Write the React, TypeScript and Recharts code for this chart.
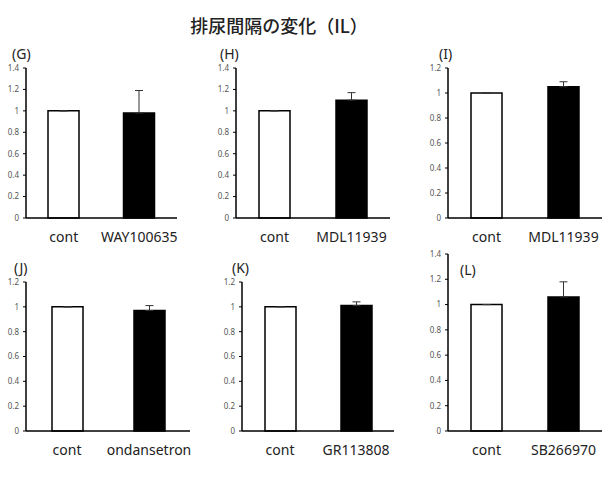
import React from 'react';
import { BarChart, Bar, XAxis, YAxis, ErrorBar, Cell } from 'recharts';

const catsG = ['cont', 'WAY100635'];
const valsG = [1, 0.98];
const errG = [0, 0.21];

const catsH = ['cont', 'MDL11939'];
const valsH = [1, 1.1];
const errH = [0, 0.07];

const catsI = ['cont', 'MDL11939'];
const valsI = [1, 1.05];
const errI = [0, 0.04];

const catsJ = ['cont', 'ondansetron'];
const valsJ = [1, 0.97];
const errJ = [0, 0.04];

const catsK = ['cont', 'GR113808'];
const valsK = [1, 1.01];
const errK = [0, 0.03];

const catsL = ['cont', 'SB266970'];
const valsL = [1, 1.06];
const errL = [0, 0.12];

const ticks14 = [0, 0.2, 0.4, 0.6, 0.8, 1, 1.2, 1.4];
const ticks12 = [0, 0.2, 0.4, 0.6, 0.8, 1, 1.2];

const FONT = '"Noto Sans", "Noto Sans CJK JP", sans-serif';

type PanelProps = {
  cats: string[];
  vals: number[];
  errs: number[];
  ticks: number[];
  axisX: number;
  plotTop: number;
  plotBottom: number;
  plotRight: number;
};

function Panel({ cats, vals, errs, ticks, axisX, plotTop, plotBottom, plotRight }: PanelProps) {
  const data = cats.map((c, i) => ({ name: c, value: vals[i], err: [0, errs[i]] }));
  const yw = 30;
  const mt = 8;
  const xh = 36;
  const w = plotRight - axisX + yw + 2;
  const h = plotBottom - plotTop + mt + xh;
  return (
    <div style={{ position: 'absolute', left: axisX - yw, top: plotTop - mt, width: w, height: h }}>
      <BarChart width={w} height={h} data={data} margin={{ top: mt, right: 2, bottom: 0, left: 0 }}>
        <XAxis
          dataKey="name"
          height={xh}
          interval={0}
          tickLine={false}
          tickSize={0}
          tickMargin={14}
          axisLine={{ stroke: '#000', strokeWidth: 1.5 }}
          tick={{ fontSize: 14, fill: '#222', fontFamily: FONT }}
        />
        <YAxis
          width={yw}
          domain={[0, ticks[ticks.length - 1]]}
          ticks={ticks}
          interval={0}
          tickSize={3}
          tickMargin={4}
          axisLine={{ stroke: '#000', strokeWidth: 1.5 }}
          tickLine={{ stroke: '#000' }}
          tick={{ fontSize: 8, fill: '#555', fontFamily: FONT }}
        />
        <Bar dataKey="value" barSize={31} isAnimationActive={false}>
          {data.map((d, i) => (
            <Cell key={i} fill={i === 0 ? '#fff' : '#000'} stroke="#000" strokeWidth={1.5} />
          ))}
          <ErrorBar dataKey="err" width={4} stroke="#333" strokeWidth={1} direction="y" />
        </Bar>
      </BarChart>
    </div>
  );
}

const labelStyle: React.CSSProperties = {
  position: 'absolute',
  fontSize: 14,
  lineHeight: '14px',
  color: '#222',
  fontFamily: FONT,
  whiteSpace: 'nowrap',
};

export default function App() {
  return (
    <div style={{ position: 'absolute', left: 0, top: 0, width: 604, height: 488, background: '#fff', fontFamily: FONT }}>
      <div
        style={{
          position: 'absolute',
          left: 0,
          width: 558,
          top: 15,
          textAlign: 'center',
          fontSize: 18,
          lineHeight: '20px',
          fontWeight: 500,
          color: '#222',
          fontFamily: '"Noto Sans CJK JP", sans-serif',
          whiteSpace: 'nowrap',
        }}
      >
        排尿間隔の変化（IL）
      </div>
      <div style={{ ...labelStyle, left: 12, top: 47 }}>(G)</div>
      <div style={{ ...labelStyle, left: 220, top: 47 }}>(H)</div>
      <div style={{ ...labelStyle, left: 439, top: 47 }}>(I)</div>
      <div style={{ ...labelStyle, left: 14, top: 261 }}>(J)</div>
      <div style={{ ...labelStyle, left: 232, top: 261 }}>(K)</div>
      <div style={{ ...labelStyle, left: 460, top: 263 }}>(L)</div>

      <Panel cats={catsG} vals={valsG} errs={errG} ticks={ticks14} axisX={26} plotTop={68} plotBottom={218} plotRight={177} />
      <Panel cats={catsH} vals={valsH} errs={errH} ticks={ticks14} axisX={236} plotTop={68} plotBottom={218} plotRight={390} />
      <Panel cats={catsI} vals={valsI} errs={errI} ticks={ticks12} axisX={448} plotTop={68} plotBottom={218} plotRight={602} />
      <Panel cats={catsJ} vals={valsJ} errs={errJ} ticks={ticks12} axisX={26} plotTop={282} plotBottom={431} plotRight={190} />
      <Panel cats={catsK} vals={valsK} errs={errK} ticks={ticks12} axisX={242} plotTop={282} plotBottom={431} plotRight={394} />
      <Panel cats={catsL} vals={valsL} errs={errL} ticks={ticks14} axisX={448} plotTop={254} plotBottom={431} plotRight={602} />
    </div>
  );
}
